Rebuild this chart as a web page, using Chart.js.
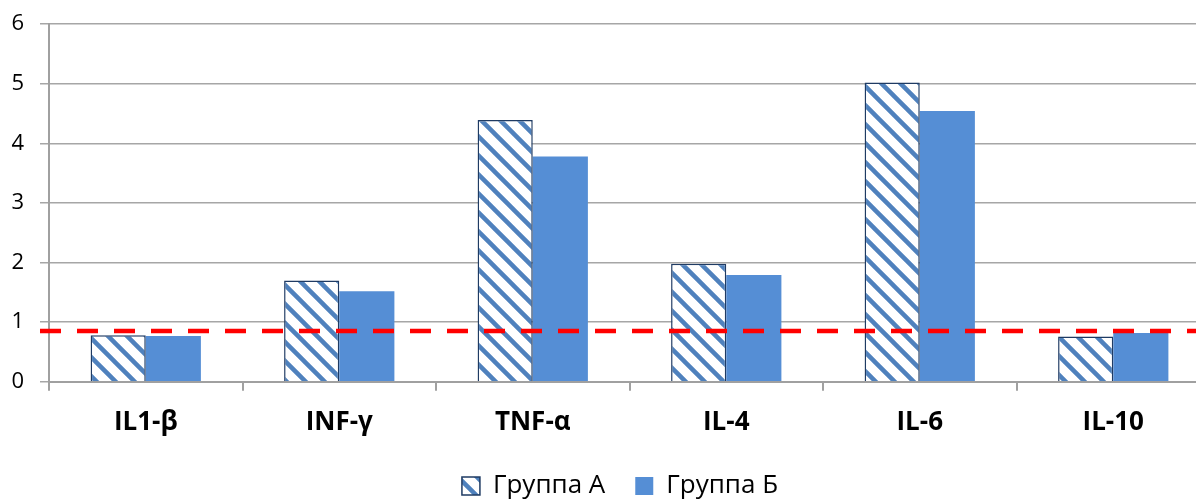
<!doctype html>
<html>
<head>
  <meta charset="utf-8">
  <title>Cytokines</title>
  <script src="https://cdn.jsdelivr.net/npm/chart.js"></script>
  <style>
    html, body { margin: 0; padding: 0; background: #fff; overflow: hidden; }
    #wrap { width: 1210px; height: 509px; }
  </style>
</head>
<body>
  <div id="wrap"><canvas id="chart"></canvas></div>

  <script>
    // data
    var categories = ["IL1-β", "INF-γ", "TNF-α", "IL-4", "IL-6", "IL-10"];
    var groupA = [0.78, 1.70, 4.39, 1.98, 5.02, 0.76];
    var groupB = [0.77, 1.52, 3.78, 1.79, 4.54, 0.82];
    var seriesNames = ["Группа А", "Группа Б"];
    var yTicks = [0, 1, 2, 3, 4, 5, 6];
    var refLevel = 0.85;

    var fontFam = "'Open Sans', 'Liberation Sans', sans-serif";

    // diagonal hatch for group A
    function hatch() {
      var s = 19;
      var c = document.createElement('canvas');
      c.width = s; c.height = s;
      var g = c.getContext('2d');
      g.fillStyle = '#ffffff';
      g.fillRect(0, 0, s, s);
      g.strokeStyle = '#4f81bd';
      g.lineWidth = 4.5;
      g.beginPath();
      [-s, 0, s].forEach(function(k) {
        g.moveTo(k - 2, -2);
        g.lineTo(k + s + 2, s + 2);
      });
      g.stroke();
      return g.createPattern(c, 'repeat');
    }

    // red dashed reference line across the plot
    var refLine = {
      id: 'refLine',
      afterLayout: function(chart) {
        // let the y tick labels use the space left of the narrow axis box
        chart.scales.y.left = 0;
      },
      afterDatasetsDraw: function(chart) {
        var y = chart.scales.y.getPixelForValue(refLevel);
        var ctx = chart.ctx;
        ctx.save();
        ctx.strokeStyle = '#ff0000';
        ctx.lineWidth = 4.5;
        ctx.setLineDash([21, 16]);
        ctx.beginPath();
        ctx.moveTo(chart.chartArea.left - 9, y);
        ctx.lineTo(chart.chartArea.right, y);
        ctx.stroke();
        ctx.restore();
      }
    };

    new Chart(document.getElementById("chart"), {
      type: 'bar',
      data: {
        labels: categories,
        datasets: [{
          label: seriesNames[0],
          data: groupA,
          backgroundColor: hatch(),
          borderColor: '#1f3b63',
          borderWidth: 1.5,
          categoryPercentage: 0.57,
          barPercentage: 1
        }, {
          label: seriesNames[1],
          data: groupB,
          backgroundColor: '#558ed5',
          borderWidth: 0,
          categoryPercentage: 0.57,
          barPercentage: 1
        }]
      },
      options: {
        responsive: true,
        maintainAspectRatio: false,
        animation: false,
        layout: { padding: { left: 30, top: 24, right: 0, bottom: 0 } },
        plugins: {
          legend: {
            position: 'bottom',
            labels: {
              color: '#000',
              font: { family: fontFam, size: 26 },
              boxWidth: 18,
              boxHeight: 18,
              padding: 30
            }
          },
          tooltip: { enabled: false }
        },
        scales: {
          x: {
            afterFit: function(axis) { axis.height -= 11; },
            grid: {
              drawOnChartArea: false,
              drawTicks: true,
              tickLength: 9,
              color: '#a0a0a0',
              lineWidth: 2
            },
            border: { color: '#a0a0a0', width: 2 },
            ticks: {
              color: '#000',
              padding: 16,
              font: { family: fontFam, size: 26, weight: 'bold' }
            }
          },
          y: {
            min: 0,
            max: 6,
            afterBuildTicks: function(axis) {
              axis.ticks = yTicks.map(function(v) { return { value: v }; });
            },
            afterFit: function(axis) {
              axis.width = 19;
              axis.paddingTop = 0;
            },
            grid: {
              color: '#a6a6a6',
              lineWidth: 1.5,
              tickLength: 9
            },
            border: { color: '#a0a0a0', width: 2 },
            ticks: {
              color: '#000',
              padding: 16,
              font: { family: fontFam, size: 22 }
            }
          }
        }
      },
      plugins: [refLine]
    });
  </script>
</body>
</html>
